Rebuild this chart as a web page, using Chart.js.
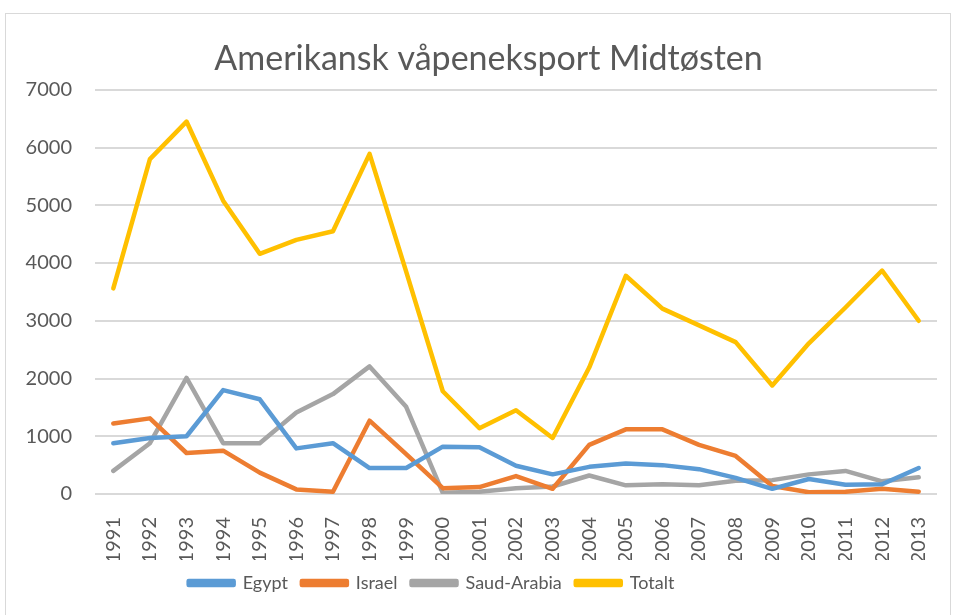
<!DOCTYPE html>
<html>
<head>
<meta charset="utf-8">
<script src="https://cdn.jsdelivr.net/npm/chart.js@4"></script>
<style>
  html, body { margin: 0; padding: 0; background: #fff; overflow: hidden; }
  #box { position: absolute; left: 5px; top: 13px; width: 944px; height: 640px; border: 1px solid #d9d9d9; }
  #wrap { position: relative; width: 944px; height: 602px; }
</style>
</head>
<body>
<div id="box"><div id="wrap"><canvas id="chartEksport"></canvas></div></div>
<script>
const years = ['1991', '1992', '1993', '1994', '1995', '1996', '1997', '1998', '1999', '2000', '2001', '2002',
  '2003', '2004', '2005', '2006', '2007', '2008', '2009', '2010', '2011', '2012', '2013'];
const egypt = [880, 970, 1000, 1800, 1640, 790, 880, 450, 450, 820, 810, 490,
  340, 470, 530, 500, 430, 280, 90, 260, 160, 170, 450];
const israel = [1220, 1310, 710, 750, 370, 80, 40, 1270, 690, 100, 120, 310,
  90, 850, 1120, 1120, 850, 660, 140, 30, 40, 90, 40];
const saudArabia = [400, 880, 2010, 880, 880, 1410, 1730, 2210, 1510, 20, 40, 100,
  130, 320, 150, 170, 150, 230, 240, 340, 400, 220, 290];
const totalt = [3560, 5800, 6450, 5080, 4160, 4400, 4550, 5890, 3850, 1780, 1140, 1450,
  970, 2190, 3780, 3210, 2920, 2630, 1880, 2610, 3230, 3870, 3000];

const tekst = '#595959';
const font = 'Lato, "Open Sans", sans-serif';

function serie(navn, data, farge) {
  return {
    label: navn,
    data: data,
    borderColor: farge,
    backgroundColor: farge,
    borderWidth: 4.5,
    pointRadius: 0,
    tension: 0,
    borderJoinStyle: 'round',
    borderCapStyle: 'round'
  };
}

// flytter tittel litt til høyre og legenden litt til venstre, som i originalen
const forskyv = {
  id: 'forskyv',
  afterLayout(chart) {
    chart.titleBlock.left += 34;
    chart.legend.left -= 40;
    chart.legend.right -= 40;
  }
};

const ctx = document.getElementById('chartEksport').getContext('2d');
new Chart(ctx, {
  type: 'line',
  data: {
    labels: years,
    datasets: [
      serie('Egypt', egypt, '#5b9bd5'),
      serie('Israel', israel, '#ed7d31'),
      serie('Saud-Arabia', saudArabia, '#a5a5a5'),
      serie('Totalt', totalt, '#ffc000')
    ]
  },
  plugins: [forskyv],
  options: {
    responsive: true,
    maintainAspectRatio: false,
    animation: false,
    layout: { padding: { left: 0, right: 13, top: 10, bottom: 14 } },
    plugins: {
      title: {
        display: true,
        text: 'Amerikansk våpeneksport Midtøsten',
        color: tekst,
        font: { family: font, size: 34, weight: '400' },
        padding: { top: 15, bottom: 10 }
      },
      legend: {
        position: 'bottom',
        labels: {
          color: tekst,
          font: { family: font, size: 18 },
          boxWidth: 45,
          boxHeight: 4,
          padding: 14
        }
      },
      tooltip: { enabled: false }
    },
    scales: {
      x: {
        offset: true,
        afterFit: function (scale) {
          scale.height = 66;
          scale.paddingRight = 0;
          scale.paddingLeft = 0;
        },
        grid: { display: false },
        border: { display: false },
        ticks: {
          color: tekst,
          font: { family: font, size: 20 },
          minRotation: 90,
          maxRotation: 90,
          autoSkip: false,
          padding: 15
        }
      },
      y: {
        min: 0,
        max: 7000,
        afterFit: function (scale) { scale.width = 89; },
        grid: { color: '#d9d9d9', lineWidth: 2, drawTicks: false },
        border: { display: false },
        ticks: {
          stepSize: 1000,
          color: tekst,
          font: { family: font, size: 20 },
          padding: 23,
          callback: function (v) { return String(v); }
        }
      }
    }
  }
});
</script>
</body>
</html>
